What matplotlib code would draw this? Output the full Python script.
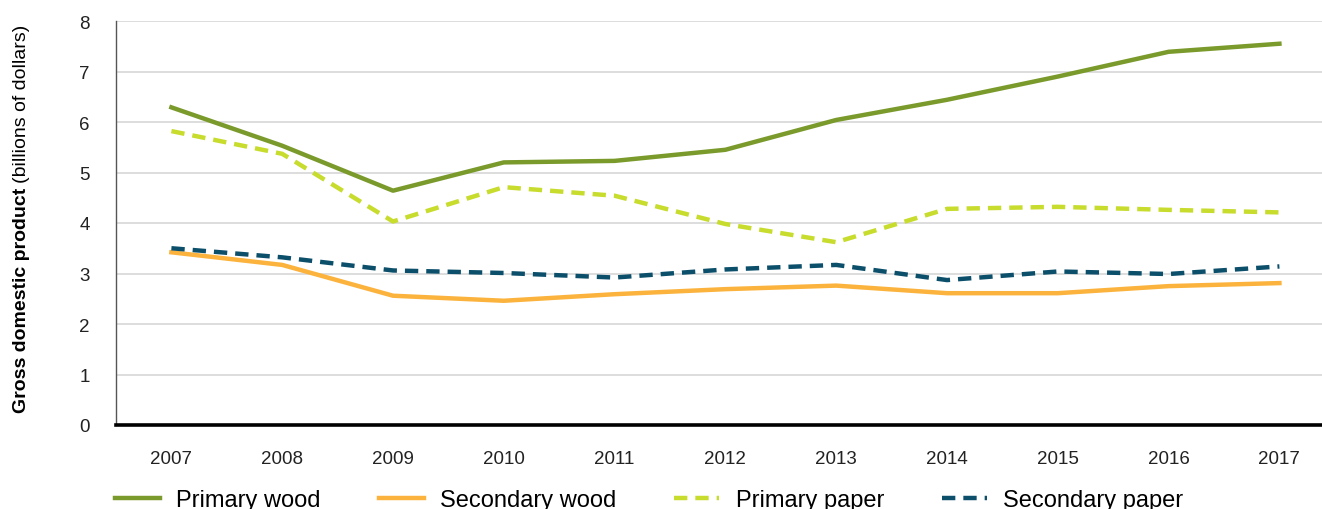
import numpy as np
import matplotlib
matplotlib.use('Agg')
import matplotlib.pyplot as plt

plt.rcParams['font.family'] = ['Liberation Sans', 'DejaVu Sans']

years = ['2007', '2008', '2009', '2010', '2011', '2012', '2013', '2014', '2015', '2016', '2017']
primary_wood = [6.29, 5.53, 4.64, 5.20, 5.23, 5.45, 6.04, 6.44, 6.90, 7.39, 7.55]
secondary_wood = [3.42, 3.17, 2.56, 2.46, 2.59, 2.69, 2.76, 2.61, 2.61, 2.75, 2.81]
primary_paper = [5.82, 5.37, 4.03, 4.71, 4.54, 3.98, 3.62, 4.28, 4.32, 4.26, 4.21]
secondary_paper = [3.50, 3.32, 3.06, 3.01, 2.92, 3.08, 3.17, 2.87, 3.04, 2.99, 3.14]

W, H = 1322, 510
fig = plt.figure(figsize=(W / 100, H / 100), dpi=100)
ax = fig.add_axes([116 / W, (H - 426) / H, 1 - 116 / W, (426 - 22) / H])

x = np.arange(len(years))
lw = 3.2
ax.plot(x, primary_wood, color='#7a9a2c', lw=lw, label='Primary wood', zorder=4)
ax.plot(x, secondary_wood, color='#fbb33d', lw=lw, label='Secondary wood', zorder=3)
ax.plot(x, primary_paper, color='#c8dc2e', lw=lw, dashes=(3, 1.8), label='Primary paper', zorder=3)
ax.plot(x, secondary_paper, color='#0c4f6b', lw=lw, dashes=(3, 1.8), label='Secondary paper', zorder=3)

ax.set_xlim(-0.5, -0.5 + (W - 116) / 110.8)
ax.set_ylim(0, 8)
ax.set_xticks(x)
ax.set_xticklabels(years)
ax.set_yticks(range(0, 9))
ax.tick_params(axis='both', length=0, labelsize=13.5, colors='#222222')
ax.tick_params(axis='x', pad=18)
ax.tick_params(axis='y', pad=19)
ax.yaxis.grid(True, color='#dadada', lw=1.3)
ax.set_axisbelow(True)

for s in ['top', 'right']:
    ax.spines[s].set_visible(False)
ax.spines['left'].set_color('#555555')
ax.spines['left'].set_linewidth(1.0)
ax.spines['bottom'].set_color('black')
ax.spines['bottom'].set_linewidth(2.6)
ax.spines['bottom'].set_zorder(5)

# y label: bold part then normal part
t1 = fig.text(22 / W, (H - 413) / H, 'Gross domestic product', rotation=90,
              rotation_mode='anchor', ha='left', va='center', fontsize=14,
              fontweight='bold')
fig.canvas.draw()
bb = t1.get_window_extent()
fig.text(22 / W, (bb.y1 + 5) / H, '(billions of dollars)', rotation=90,
         rotation_mode='anchor', ha='left', va='center', fontsize=14)

ax.legend(loc='center left', bbox_to_anchor=(115 / W, 9 / H),
          bbox_transform=fig.transFigure, ncol=4, frameon=False,
          fontsize=17, handlelength=1.9, handletextpad=0.7,
          columnspacing=2.45, borderpad=0, borderaxespad=0)

fig.savefig('out.png', dpi=100)
